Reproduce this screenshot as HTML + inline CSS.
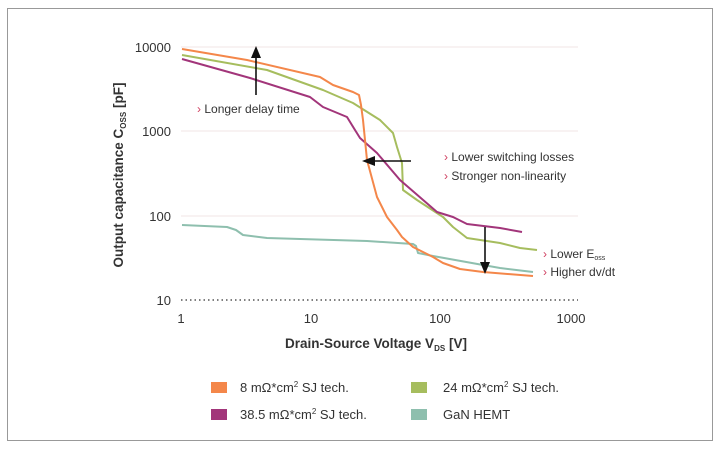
<!DOCTYPE html><html><head><meta charset="utf-8"><style>body{margin:0;background:#fff}svg{display:block;font-family:"Liberation Sans",sans-serif}</style></head><body>
<svg width="720" height="449" viewBox="0 0 720 449">
<rect x="7.5" y="8.5" width="705" height="432" fill="#fff" stroke="#999" stroke-width="1"/>
<g stroke="#f0e4e4" stroke-width="1"><line x1="181" y1="47" x2="578" y2="47"/><line x1="181" y1="131" x2="578" y2="131"/><line x1="181" y1="216" x2="578" y2="216"/></g>
<line x1="181" y1="300" x2="578" y2="300" stroke="#333" stroke-width="1.3" stroke-dasharray="1.5,3"/>
<g font-size="13" fill="#333" text-anchor="end"><text x="171" y="52">10000</text><text x="171" y="136">1000</text><text x="171" y="221">100</text><text x="171" y="305">10</text></g>
<g font-size="13" fill="#333" text-anchor="middle"><text x="181" y="323">1</text><text x="311" y="323">10</text><text x="440" y="323">100</text><text x="571" y="323">1000</text></g>
<text x="376" y="348" font-size="13.5" font-weight="bold" fill="#333" text-anchor="middle">Drain-Source Voltage V<tspan font-size="8" dy="3">DS</tspan><tspan dy="-3"> [V]</tspan></text>
<text transform="translate(123,175) rotate(-90)" font-size="13.5" font-weight="bold" fill="#333" text-anchor="middle">Output capacitance C<tspan font-size="8" dy="3">OSS</tspan><tspan dy="-3">  [pF]</tspan></text>
<g fill="none" stroke-width="2" stroke-linejoin="round">
<polyline stroke="#8ebfae" points="182,225 227,227 236,230 243,235 267,238 367,241 413,244 416,246 418,253 433,256 483,265 500,268 533,272"/>
<polyline stroke="#a6bd5e" points="182,55 267,70 323,90 353,103 380,120 393,133 397,147 402,163 403,190 417,200 443,217 453,227 467,238 500,243 520,248 537,250"/>
<polyline stroke="#a2357a" points="182,59 250,78 310,97 323,107 347,117 355,130 360,138 377,153 400,180 437,212 453,217 467,224 500,228 522,232"/>
<polyline stroke="#f4874a" points="182,49 247,60 320,77 333,85 353,92 359,95 361,105 363,120 367,160 377,197 387,217 397,230 402,237 413,247 433,257 443,263 460,269 483,272 533,276"/>
</g>
<g stroke="#111" stroke-width="1.6" fill="#111">
<line x1="256" y1="95" x2="256" y2="56"/><polygon points="251,58 261,58 256,46" stroke="none"/>
<line x1="411" y1="161" x2="373" y2="161"/><polygon points="375,156 375,166 362,161" stroke="none"/>
<line x1="485" y1="227" x2="485" y2="264"/><polygon points="480,262 490,262 485,274" stroke="none"/>
</g>
<g font-size="12" fill="#333">
<text x="197" y="113"><tspan fill="#d04060">› </tspan>Longer delay time</text>
<text x="444" y="161"><tspan fill="#d04060">› </tspan>Lower switching losses</text>
<text x="444" y="180"><tspan fill="#d04060">› </tspan>Stronger non-linearity</text>
<text x="543" y="258"><tspan fill="#d04060">› </tspan>Lower E<tspan font-size="7" dy="2">oss</tspan></text>
<text x="543" y="276"><tspan fill="#d04060">› </tspan>Higher dv/dt</text>
</g>
<rect x="211" y="382" width="16" height="11" fill="#f4874a"/>
<rect x="411" y="382" width="16" height="11" fill="#a6bd5e"/>
<rect x="211" y="409" width="16" height="11" fill="#a2357a"/>
<rect x="411" y="409" width="16" height="11" fill="#8ebfae"/>
<g font-size="13" fill="#333">
<text x="240" y="392">8 mΩ*cm<tspan font-size="8" dy="-5">2</tspan><tspan dy="5"> SJ tech.</tspan></text>
<text x="443" y="392">24 mΩ*cm<tspan font-size="8" dy="-5">2</tspan><tspan dy="5"> SJ tech.</tspan></text>
<text x="240" y="419">38.5 mΩ*cm<tspan font-size="8" dy="-5">2</tspan><tspan dy="5"> SJ tech.</tspan></text>
<text x="443" y="419">GaN HEMT</text>
</g>
</svg></body></html>
